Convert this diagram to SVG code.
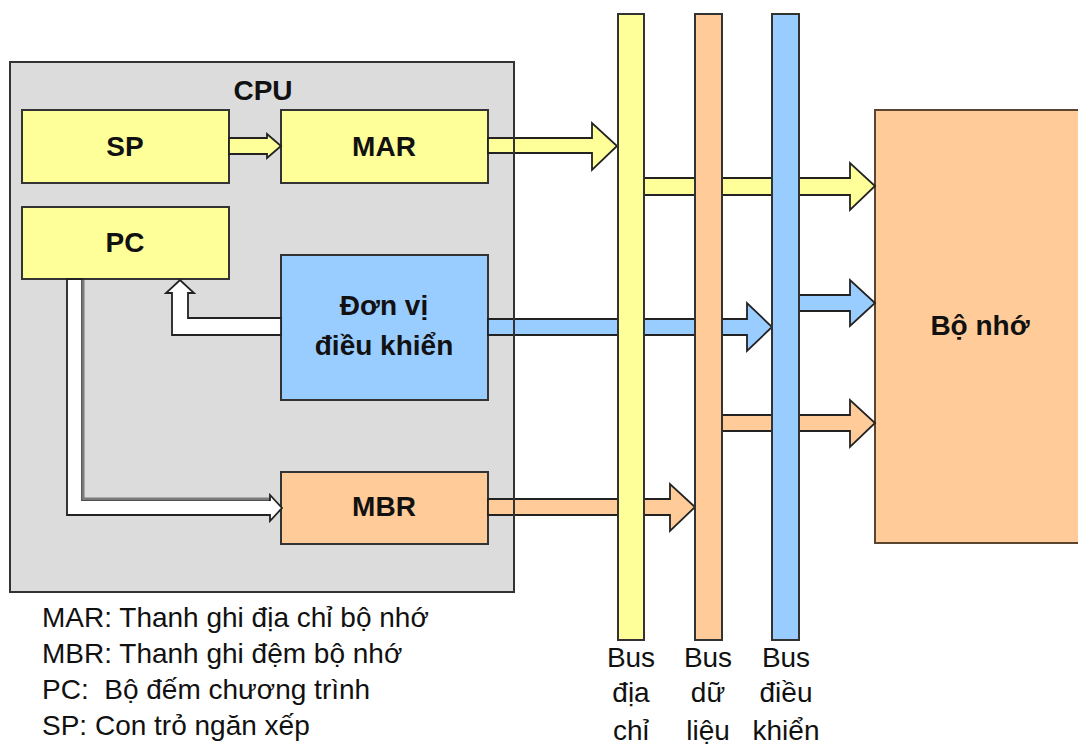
<svg xmlns="http://www.w3.org/2000/svg" width="1078" height="754" viewBox="0 0 1078 754">
<style>
.box{stroke:#333;stroke-width:2}
.y{fill:#ffff99}.o{fill:#ffcc99}.b{fill:#99ccff}.w{fill:#ffffff}
.arr{stroke:#222;stroke-width:1.8;stroke-linejoin:miter}
.lbl{font-family:"Liberation Sans",Arial,sans-serif;font-weight:bold;font-size:28px;fill:#111;text-anchor:middle}
.txt{font-family:"Liberation Sans",Arial,sans-serif;font-size:28px;fill:#111}
.bus{font-family:"Liberation Sans",Arial,sans-serif;font-size:28px;fill:#111;text-anchor:middle}
</style>
<rect width="1078" height="754" fill="#ffffff"/>
<g id="cpu">
<rect x="10" y="62" width="504" height="530" fill="#dcdcdc" stroke="#333" stroke-width="2"/>
<text class="lbl" x="263" y="100">CPU</text>
</g>
<g id="sp"><rect class="box y" x="22" y="110" width="207" height="73"/><text class="lbl" x="125" y="156">SP</text></g>
<g id="mar"><rect class="box y" x="281" y="110" width="207" height="73"/><text class="lbl" x="384" y="156">MAR</text></g>
<g id="pc"><rect class="box y" x="22" y="207" width="207" height="72"/><text class="lbl" x="125" y="252">PC</text></g>
<g id="control"><rect class="box b" x="281" y="255" width="207" height="145"/><text class="lbl" x="384" y="315">Đơn vị</text><text class="lbl" x="384" y="355">điều khiển</text></g>
<g id="mbr"><rect class="box o" x="281" y="472" width="207" height="72"/><text class="lbl" x="384" y="516">MBR</text></g>
<g id="memory"><rect x="875" y="110" width="215" height="433" fill="#ffcc99" stroke="#5a4630" stroke-width="2"/><text class="lbl" x="980" y="335">Bộ nhớ</text></g>
<g id="connectors">
<polygon class="arr y" points="229,138 267,138 267,134 281,146 267,158 267,154 229,154"/>
<polygon class="arr w" points="281,318 188,318 188,293 194,293 180,280 166,293 172,293 172,335 281,335"/>
<polygon class="arr w" points="67,279 67,515 270,515 270,521 282,508 270,495 270,500 82,500 82,279"/>
<polyline points="83,280 83,499 269,499" fill="none" stroke="#7a7a7a" stroke-width="3"/>
<polygon class="arr y" points="488,138 592,138 592,123 617,146 592,170 592,153 488,153"/>
<polygon class="arr b" points="488,319 747,319 747,303 772,327 747,351 747,335 488,335"/>
<polygon class="arr o" points="488,499 670,499 670,484 695,507 670,531 670,515 488,515"/>
<polygon class="arr y" points="631,178 850,178 850,163 875,186 850,210 850,195 631,195"/>
<polygon class="arr b" points="786,295 850,295 850,280 875,303 850,326 850,311 786,311"/>
<polygon class="arr o" points="708,415 850,415 850,400 875,423 850,447 850,431 708,431"/>
<line x1="514" y1="120" x2="514" y2="560" stroke="#333" stroke-width="2"/>
</g>
<g id="bus-address"><rect class="box y" x="618" y="14" width="26" height="626"/><text class="bus" x="631" y="667">Bus</text><text class="bus" x="631" y="702">địa</text><text class="bus" x="631" y="740">chỉ</text></g>
<g id="bus-data"><rect class="box o" x="695" y="14" width="27" height="626"/><text class="bus" x="708" y="667">Bus</text><text class="bus" x="708" y="702">dữ</text><text class="bus" x="708" y="740">liệu</text></g>
<g id="bus-control"><rect class="box b" x="772" y="14" width="27" height="626"/><text class="bus" x="786" y="667">Bus</text><text class="bus" x="786" y="702">điều</text><text class="bus" x="786" y="740">khiển</text></g>
<g id="legend">
<text class="txt" x="42" y="627">MAR: Thanh ghi địa chỉ bộ nhớ</text>
<text class="txt" x="42" y="663">MBR: Thanh ghi đệm bộ nhớ</text>
<text class="txt" x="42" y="699" xml:space="preserve">PC:  Bộ đếm chương trình</text>
<text class="txt" x="42" y="735">SP: Con trỏ ngăn xếp</text>
</g>
</svg>
